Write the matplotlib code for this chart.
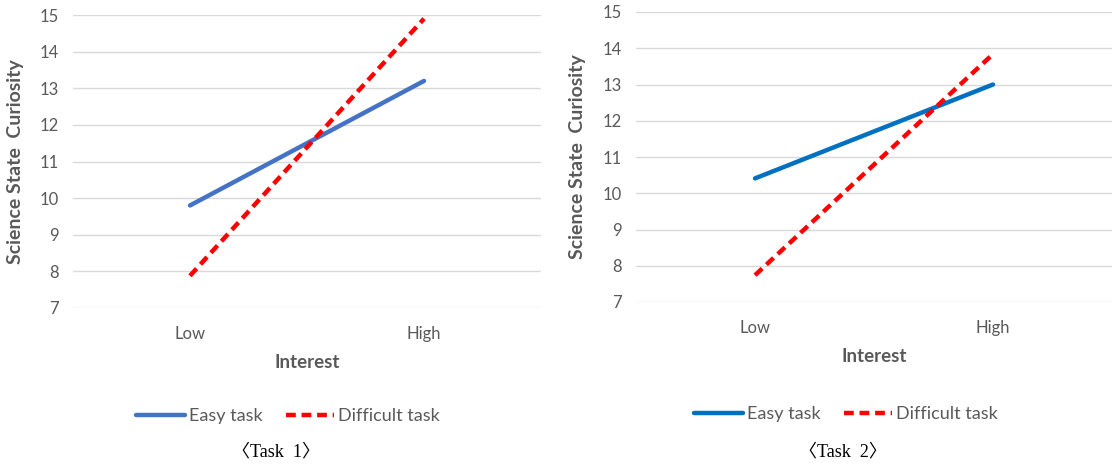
import matplotlib
matplotlib.use("Agg")
import matplotlib.pyplot as plt

categories = ["Low", "High"]
yticks = [7, 8, 9, 10, 11, 12, 13, 14, 15]

task1_easy = [9.8, 13.2]
task1_difficult = [7.88, 14.9]
task2_easy = [10.41, 13.0]
task2_difficult = [7.74, 13.84]

series_names = ["Easy task", "Difficult task"]
captions = ["〈Task  1〉", "〈Task  2〉"]

plt.rcParams['font.family'] = ['Lato', 'DejaVu Sans']
GRAY = "#595959"

fig = plt.figure(figsize=(11.14, 4.66), dpi=100)

panels = [
    dict(rect=[73/1114, 1-308/466, (541-73)/1114, (308-15)/466],
         easy=task1_easy, diff=task1_difficult, easy_color="#4472C4",
         legend_xy=(288/1114, 1-416/466), caption_xy=(276/1114, 1-452/466),
         caption=captions[0], ylabel_x=16/1114, xlabel_y=1-362/466),
    dict(rect=[636/1114, 1-302/466, (1112-636)/1114, (302-12)/466],
         easy=task2_easy, diff=task2_difficult, easy_color="#0070C0",
         legend_xy=(846/1114, 1-414/466), caption_xy=(843/1114, 1-452/466),
         caption=captions[1], ylabel_x=578/1114, xlabel_y=1-357/466),
]

for p in panels:
    ax = fig.add_axes(p["rect"])
    x = range(len(categories))
    l1, = ax.plot(x, p["easy"], color=p["easy_color"], lw=3.2,
                  solid_capstyle="round", label=series_names[0])
    l2, = ax.plot(x, p["diff"], color="#FF0000", lw=3.2, linestyle=(0, (2.2, 1.3)),
                  dash_capstyle="butt", label=series_names[1])
    ax.set_xlim(-0.5, 1.5)
    ax.set_ylim(7, 15)
    ax.set_yticks(yticks)
    ax.set_xticks(list(x))
    ax.set_xticklabels(categories)
    ax.yaxis.grid(True, color="#D9D9D9", lw=1.0)
    ax.set_axisbelow(True)
    for s in ax.spines.values():
        s.set_visible(False)
    ax.tick_params(length=0, colors=GRAY, labelsize=12)
    ax.tick_params(axis="y", pad=10)
    ax.tick_params(axis="x", pad=13)
    fig.text(p["ylabel_x"], p["rect"][1] + p["rect"][3]/2, "Science State  Curiosity",
             rotation=90, ha="center", va="center", fontsize=14,
             fontweight="bold", color=GRAY)
    fig.text(p["rect"][0] + p["rect"][2]/2, p["xlabel_y"], "Interest",
             ha="center", va="center", fontsize=13.5, fontweight="bold", color=GRAY)
    fig.legend(handles=[l1, l2], loc="center", bbox_to_anchor=p["legend_xy"],
               ncol=2, frameon=False, fontsize=13, handlelength=2.7,
               handletextpad=0.2, columnspacing=1.3, labelcolor=GRAY)
    fig.text(p["caption_xy"][0], p["caption_xy"][1], p["caption"],
             ha="center", va="center", fontsize=13,
             family=["Liberation Serif", "Noto Sans CJK SC"], color="black")

fig.savefig("out.png", dpi=100)
